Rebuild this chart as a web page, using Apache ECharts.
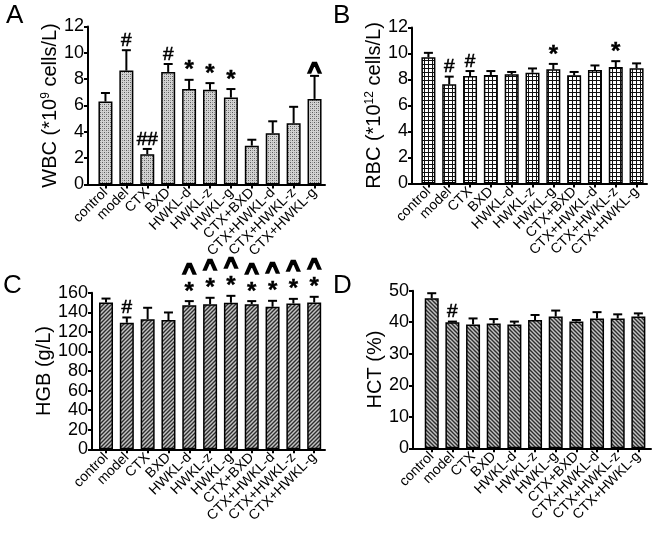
<!DOCTYPE html>
<html><head><meta charset="utf-8">
<script src="https://cdn.jsdelivr.net/npm/echarts@6/dist/echarts.min.js"></script>
<style>html,body{margin:0;padding:0;background:#fff}#c{width:661px;height:537px}</style>
</head><body><div id="c"></div>
<script>
// ---------------- DATA ----------------
const categories = ['control','model','CTX','BXD','HWKL-d','HWKL-z','HWKL-g','CTX+BXD','CTX+HWKL-d','CTX+HWKL-z','CTX+HWKL-g'];

const wbcMean = [6.3, 8.65, 2.3, 8.55, 7.25, 7.2, 6.6, 2.95, 3.9, 4.65, 6.5];
const wbcErr  = [0.65, 1.55, 0.4, 0.6, 0.7, 0.5, 0.65, 0.45, 0.9, 1.25, 1.75];
const wbcMarks = [[], ['#'], ['##'], ['#'], ['*'], ['*'], ['*'], [], [], [], ['^']];

const rbcMean = [9.72, 7.63, 8.27, 8.35, 8.4, 8.52, 8.78, 8.32, 8.73, 8.96, 8.86];
const rbcErr  = [0.33, 0.59, 0.38, 0.3, 0.18, 0.33, 0.42, 0.26, 0.35, 0.45, 0.38];
const rbcMarks = [[], ['#'], ['#'], [], [], [], ['*'], [], [], ['*'], []];

const hgbMean = [150, 129.3, 133, 132, 147.3, 148.3, 149.7, 148.3, 145.6, 149, 150];
const hgbErr  = [4, 5.4, 11.6, 7.8, 4.1, 6.5, 7.1, 3.1, 6.1, 4.7, 5.8];
const hgbMarks = [[], ['#'], [], [], ['*','^'], ['*','^'], ['*','^'], ['*','^'], ['*','^'], ['*','^'], ['*','^']];

const hctMean = [47.6, 40.0, 39.3, 39.6, 39.3, 40.7, 41.8, 40.2, 41.2, 41.2, 41.8];
const hctErr  = [1.6, 0.2, 1.9, 1.4, 0.9, 1.6, 1.9, 0.5, 2.0, 1.3, 1.0];
const hctMarks = [[], ['#'], [], [], [], [], [], [], [], [], []];

const yTicksA = {min: 0, max: 12, interval: 2};
const yTicksB = {min: 0, max: 12, interval: 2};
const yTicksC = {min: 0, max: 160, interval: 20};
const yTicksD = {min: 0, max: 50, interval: 10};

const panelLetters = ['A', 'B', 'C', 'D'];

// ---------------- PATTERNS ----------------
function makeTile(draw) {
  const c = document.createElement('canvas');
  c.width = 4; c.height = 4;
  const ctx = c.getContext('2d');
  draw(ctx);
  return {image: c, repeat: 'repeat'};
}
const patDots = makeTile(ctx => {
  ctx.fillStyle = '#d2d2d2'; ctx.fillRect(0,0,4,4);
  ctx.fillStyle = '#5a5a5a'; ctx.fillRect(0,0,1,1); ctx.fillRect(2,2,1,1);
  ctx.fillStyle = '#9a9a9a'; ctx.fillRect(2,0,1,1); ctx.fillRect(0,2,1,1);
});
const patGrid = makeTile(ctx => {
  ctx.fillStyle = '#ffffff'; ctx.fillRect(0,0,4,4);
  ctx.fillStyle = '#111111'; ctx.fillRect(0,0,4,1); ctx.fillRect(0,0,1,4);
});
const patFwd = makeTile(ctx => {
  ctx.fillStyle = '#c4c4c4'; ctx.fillRect(0,0,4,4);
  ctx.strokeStyle = '#2e2e2e'; ctx.lineWidth = 1.4;
  ctx.beginPath();
  ctx.moveTo(-1,5); ctx.lineTo(5,-1);
  ctx.moveTo(-1,1); ctx.lineTo(1,-1);
  ctx.moveTo(3,5); ctx.lineTo(5,3);
  ctx.stroke();
});
const patBack = makeTile(ctx => {
  ctx.fillStyle = '#c4c4c4'; ctx.fillRect(0,0,4,4);
  ctx.strokeStyle = '#2e2e2e'; ctx.lineWidth = 1.4;
  ctx.beginPath();
  ctx.moveTo(-1,-1); ctx.lineTo(5,5);
  ctx.moveTo(3,-1); ctx.lineTo(5,1);
  ctx.moveTo(-1,3); ctx.lineTo(1,5);
  ctx.stroke();
});

// ---------------- LAYOUT ----------------
const FONT = '"Liberation Sans", Arial, sans-serif';
const panels = [
  {mean: wbcMean, err: wbcErr, marks: wbcMarks, ticks: yTicksA, pat: patDots, gap: 6,
   frame: {left: 88, top: 26.5, width: 237, height: 158},
   data:  {left: 95, top: 26.5, width: 230, height: 158},
   name: ['WBC (*10', '9', ' cells/L)']},
  {mean: rbcMean, err: rbcErr, marks: rbcMarks, ticks: yTicksB, pat: patGrid, gap: 6,
   frame: {left: 412, top: 27.5, width: 235, height: 156},
   data:  {left: 418, top: 27.5, width: 229, height: 156},
   name: ['RBC (*10', '12', ' cells/L)']},
  {mean: hgbMean, err: hgbErr, marks: hgbMarks, ticks: yTicksC, pat: patFwd, gap: 3,
   frame: {left: 92, top: 292.7, width: 233, height: 156.6},
   data:  {left: 95.6, top: 292.7, width: 229, height: 156.6},
   name: ['HGB (g/L)', '', '']},
  {mean: hctMean, err: hctErr, marks: hctMarks, ticks: yTicksD, pat: patBack, gap: 6,
   frame: {left: 413, top: 290.7, width: 238, height: 157.6},
   data:  {left: 421.4, top: 290.7, width: 227.3, height: 157.6},
   name: ['HCT (%)', '', '']}
];

const markStyle = {
  '#':  {font: 'normal 19px ' + FONT, lw: 0.6},
  '##': {font: 'normal 19px ' + FONT, lw: 0.6},
  '*':  {font: 'bold 24px ' + FONT, lw: 0.4},
  '^':  {font: 'bold 24px ' + FONT, lw: 1.6}
};

const grid = [], xAxis = [], yAxis = [], series = [];
panels.forEach((p, k) => {
  const fi = 2 * k, di = 2 * k + 1;
  grid.push(Object.assign({outerBoundsMode: 'none'}, p.frame));
  grid.push(Object.assign({outerBoundsMode: 'none'}, p.data));
  xAxis.push({type: 'value', gridIndex: fi, min: 0, max: 1,
    axisLine: {show: true, lineStyle: {color: '#000', width: 2}},
    axisTick: {show: false}, axisLabel: {show: false}, splitLine: {show: false}});
  const rich = {
    a: {fontFamily: FONT, fontSize: 20, color: '#000'},
    s: {fontFamily: FONT, fontSize: 12, color: '#000', verticalAlign: 'top', padding: [0, 0, 8, 0]}
  };
  const nm = p.name[1] ? '{a|' + p.name[0] + '}{s|' + p.name[1] + '}{a|' + p.name[2] + '}' : '{a|' + p.name[0] + '}';
  yAxis.push({type: 'value', gridIndex: fi, min: p.ticks.min, max: p.ticks.max, interval: p.ticks.interval,
    axisLine: {show: true, lineStyle: {color: '#000', width: 2}},
    axisTick: {show: true, length: 4, lineStyle: {color: '#000', width: 2}},
    axisLabel: {fontFamily: FONT, fontSize: 18, color: '#000', margin: 4},
    splitLine: {show: false},
    name: nm, nameLocation: 'middle', nameRotate: 90, nameGap: p.gap,
    nameTextStyle: {rich: rich}});
  xAxis.push({type: 'category', gridIndex: di, data: categories,
    axisLine: {show: false},
    axisTick: {show: true, alignWithLabel: true, length: 4, lineStyle: {color: '#000', width: 2}},
    axisLabel: {interval: 0, rotate: 45, fontFamily: FONT, fontSize: 14, color: '#000', margin: 6},
    splitLine: {show: false}});
  yAxis.push({type: 'value', gridIndex: di, min: p.ticks.min, max: p.ticks.max, interval: p.ticks.interval, show: false});

  series.push({type: 'bar', xAxisIndex: di, yAxisIndex: di, data: p.mean, barWidth: 14,
    itemStyle: {color: p.pat, borderColor: '#000', borderWidth: 1.5}, silent: true, animation: false});

  const marks = p.marks;
  series.push({type: 'custom', xAxisIndex: di, yAxisIndex: di, animation: false, silent: true, z: 5,
    data: p.mean.map((m, i) => [i, m, m + p.err[i]]),
    renderItem: function (params, api) {
      const i = api.value(0);
      const p0 = api.coord([i, api.value(1)]);
      const p1 = api.coord([i, api.value(2)]);
      const cap = 4.5;
      const children = [
        {type: 'line', shape: {x1: p0[0], y1: p0[1], x2: p1[0], y2: p1[1]}, style: {stroke: '#000', lineWidth: 2}},
        {type: 'line', shape: {x1: p1[0] - cap, y1: p1[1], x2: p1[0] + cap, y2: p1[1]}, style: {stroke: '#000', lineWidth: 2}}
      ];
      let y = p1[1] - 3;
      (marks[params.dataIndex] || []).forEach(t => {
        const ms = markStyle[t];
        let ty, va;
        if (t === '*') { ty = y - 6; va = 'middle'; }
        else if (t === '^') { ty = y - 1; va = 'middle'; }
        else { ty = y + 3; va = 'bottom'; }
        children.push({type: 'text', style: {text: t, x: p1[0], y: ty, align: 'center', verticalAlign: va,
          font: ms.font, fill: '#000', stroke: '#000', lineWidth: ms.lw}});
        y -= (t === '*' ? 24 : 16);
      });
      return {type: 'group', children: children};
    }});
});

const letterPos = [[6, 3], [333, 3], [3, 273], [333, 273]];
const graphic = panelLetters.map((L, i) => ({type: 'text', left: letterPos[i][0], top: letterPos[i][1],
  style: {text: L, font: 'normal 26px ' + FONT, fill: '#000'}}));

const chart = echarts.init(document.getElementById('c'), null, {renderer: 'canvas'});
chart.setOption({animation: false, backgroundColor: '#fff', grid, xAxis, yAxis, series, graphic});
</script></body></html>
